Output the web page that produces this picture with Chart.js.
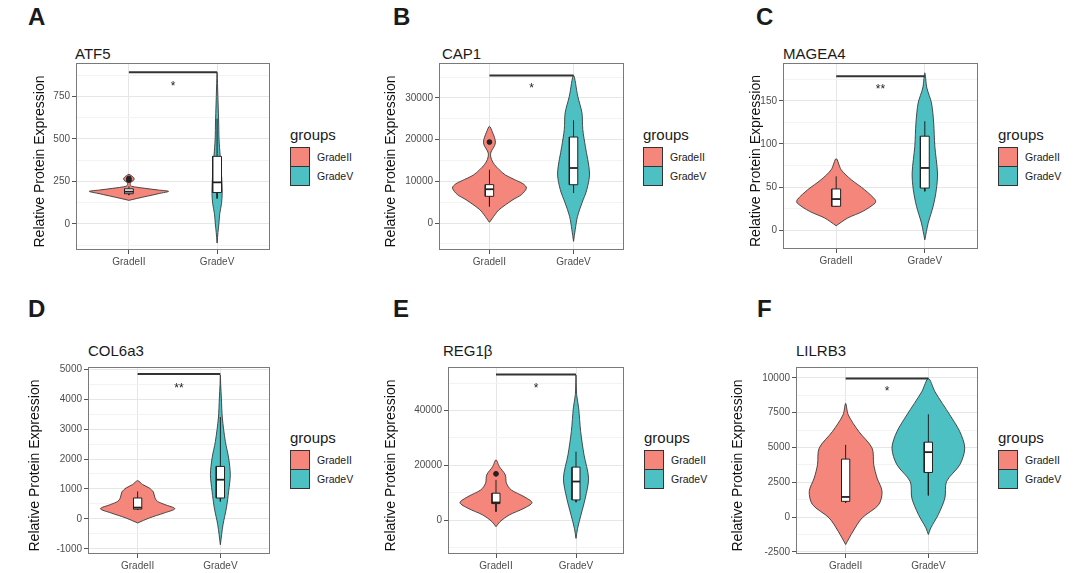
<!DOCTYPE html>
<html>
<head>
<meta charset="utf-8">
<script src="https://cdn.jsdelivr.net/npm/chart.js@4.4.1/dist/chart.umd.min.js"></script>
<style>
  body { margin: 0; width: 1080px; height: 573px; background: #fff; position: relative; overflow: hidden;
         font-family: "Liberation Sans", Arial, sans-serif; color: #1a1a1a; }
  .abs { position: absolute; white-space: nowrap; line-height: 1; }
  .letter { font-size: 24px; font-weight: bold; }
  .title { font-size: 15px; }
  .legtitle { font-size: 15px; }
  .sw { position: absolute; width: 20px; height: 20px; box-sizing: border-box; border: 1px solid #333; }
  .swlab { position: absolute; font-size: 10.5px; line-height: 20px; white-space: nowrap; }
  canvas { position: absolute; }
</style>
</head>
<body>
<div id="root"></div>
<script>
const groups = ["GradeII", "GradeV"];
const groupColors = ["#F4867B", "#4DC0C4"];
const panelLetters = ["A", "B", "C", "D", "E", "F"];
const genes = ["ATF5", "CAP1", "MAGEA4", "COL6a3", "REG1β", "LILRB3"];

const yTicks = [
  [0, 250, 500, 750],
  [0, 10000, 20000, 30000],
  [0, 50, 100, 150],
  [-1000, 0, 1000, 2000, 3000, 4000, 5000],
  [0, 20000, 40000],
  [-2500, 0, 2500, 5000, 7500, 10000]
];
const yLimits = [[-153, 947], [-6470, 38370], [-22, 194], [-1167, 5067], [-12430, 55940], [-2658, 10776]];

// violin outlines: value levels (bottom to top) and half widths in category units
const atf5IIY = [139, 150, 165, 180, 192, 200, 210, 222, 232, 245, 255, 265, 275, 285, 292];
const atf5IIW = [0, 0.09, 0.22, 0.35, 0.45, 0.33, 0.18, 0.03, 0.015, 0.02, 0.05, 0.06, 0.05, 0.025, 0];
const atf5VY = [-112, -50, 0, 60, 120, 180, 250, 320, 400, 500, 600, 700, 800, 892];
const atf5VW = [0, 0.01, 0.02, 0.03, 0.05, 0.058, 0.055, 0.045, 0.035, 0.022, 0.018, 0.012, 0.006, 0];

const cap1IIY = [170, 1000, 1600, 3200, 5600, 6800, 8400, 9400, 10400, 11500, 12800, 14000, 15200, 16500, 17500, 18500, 19400, 20500, 21800, 23200];
const cap1IIW = [0, 0.03, 0.05, 0.115, 0.28, 0.38, 0.44, 0.40, 0.30, 0.19, 0.115, 0.06, 0.025, 0.012, 0.03, 0.06, 0.071, 0.06, 0.035, 0];
const cap1VY = [-4390, -1600, 1600, 4800, 8000, 12000, 18400, 22400, 26400, 30400, 35400];
const cap1VW = [0, 0.02, 0.047, 0.10, 0.158, 0.19, 0.14, 0.11, 0.10, 0.05, 0];

const magea4IIY = [5, 14, 21.7, 31.4, 35.2, 46.9, 58.5, 70.1, 82.9];
const magea4IIW = [0, 0.13, 0.30, 0.44, 0.44, 0.32, 0.17, 0.056, 0];
const magea4VY = [-11.3, 8.1, 27.6, 46.9, 66.3, 97.3, 124.4, 147.7, 165, 182.6];
const magea4VW = [0, 0.038, 0.094, 0.13, 0.143, 0.113, 0.10, 0.075, 0.023, 0];

const col6a3IIY = [-133, 33, 200, 343, 480, 587, 700, 900, 1033, 1150, 1277];
const col6a3IIW = [0, 0.14, 0.32, 0.45, 0.33, 0.24, 0.21, 0.19, 0.14, 0.06, 0];
const col6a3VY = [-857, -190, 367, 920, 1477, 2033, 2587, 3367, 4033, 4480, 4800];
const col6a3VW = [0, 0.032, 0.073, 0.10, 0.12, 0.10, 0.06, 0.024, 0.012, 0.004, 0];

const reg1bIIY = [-2450, -620, 1835, 4280, 6350, 8550, 11009, 13460, 16514, 19560, 22018];
const reg1bIIW = [0, 0.05, 0.165, 0.35, 0.45, 0.35, 0.19, 0.13, 0.116, 0.041, 0];
const reg1bVY = [-6720, -3050, 1835, 7960, 15300, 23850, 32400, 40990, 45870, 53000];
const reg1bVW = [0, 0.02, 0.062, 0.116, 0.157, 0.10, 0.058, 0.033, 0.008, 0];

const lilrb3IIY = [-1976, -1024, -64, 888, 1840, 2800, 3751, 4947, 6135, 7330, 8168];
const lilrb3IIW = [0, 0.09, 0.20, 0.40, 0.44, 0.38, 0.34, 0.32, 0.16, 0.032, 0];
const lilrb3VY = [-1260, -780, 172, 1367, 2556, 3751, 4947, 6135, 7330, 9000, 9958];
const lilrb3VW = [0, 0.03, 0.12, 0.20, 0.22, 0.38, 0.44, 0.38, 0.26, 0.08, 0];

// box stats per group: [lower whisker, q1, median, q3, upper whisker]
const atf5Box = [[170, 178, 190, 207, 222], [150, 185, 245, 398, 620]];
const cap1Box = [[3990, 6400, 8100, 9200, 12780], [7190, 9180, 13190, 20620, 24630]];
const magea4Box = [[27, 27.6, 36, 47.7, 62.4], [45, 48.8, 72.1, 109, 126.4]];
const col6a3Box = [[300, 330, 380, 700, 920], [587, 700, 1310, 1753, 3400]];
const reg1bBox = [[3050, 6000, 6400, 9800, 14680], [6500, 7340, 14060, 19340, 25000]];
const lilrb3Box = [[1010, 1125, 1440, 4160, 5183], [1554, 3200, 4660, 5376, 7380]];

const atf5Out = [[258, 268], []];
const cap1Out = [[19420], []];
const reg1bOut = [[16880], []];

const sigBarY = [892, 35400, 178.7, 4833, 53210, 9958];
const sigLabelY = [829, 33020, 167, 4453, 49280, 9242];
const sigLabels = ["*", "*", "**", "**", "*", "*"];

const violins = [
  [[atf5IIY, atf5IIW], [atf5VY, atf5VW]],
  [[cap1IIY, cap1IIW], [cap1VY, cap1VW]],
  [[magea4IIY, magea4IIW], [magea4VY, magea4VW]],
  [[col6a3IIY, col6a3IIW], [col6a3VY, col6a3VW]],
  [[reg1bIIY, reg1bIIW], [reg1bVY, reg1bVW]],
  [[lilrb3IIY, lilrb3IIW], [lilrb3VY, lilrb3VW]]
];
const boxes = [atf5Box, cap1Box, magea4Box, col6a3Box, reg1bBox, lilrb3Box];
const outliers = [atf5Out, cap1Out, [[], []], [[], []], reg1bOut, [[], []]];

// page layout: plot rectangle [l, t, r, b], y title x, letter, title, legend
const layout = [
  { plot: [76, 63, 271, 250], yTitleX: 40, letter: [28, 5], title: [75, 46], legend: [290, 147] },
  { plot: [439, 63, 625, 250], yTitleX: 391, letter: [393, 5], title: [442, 46], legend: [643, 147] },
  { plot: [783, 63, 978, 249], yTitleX: 756, letter: [756, 5], title: [783, 46], legend: [998, 147] },
  { plot: [88, 367, 270, 554], yTitleX: 35, letter: [28, 297], title: [88, 343], legend: [290, 450] },
  { plot: [448, 367, 625, 554], yTitleX: 391, letter: [393, 297], title: [443, 343], legend: [644, 450] },
  { plot: [796, 367, 978, 554], yTitleX: 738, letter: [757, 297], title: [796, 343], legend: [998, 450] }
];
const AXW = 70, PADT = 10, PADR = 4, AXH = 24, BOXW = 0.05;

function violinPoints(cx, ys, ws) {
  const right = ys.map((v, k) => ({ x: cx + ws[k], y: v }));
  const left = ys.map((v, k) => ({ x: cx - ws[k], y: v })).reverse();
  return right.concat(left.slice(1));
}

const panelDecor = {
  id: "panelDecor",
  afterDraw(chart, args, opts) {
    const { ctx, chartArea: a, scales: { x, y } } = chart;
    ctx.save();
    ctx.strokeStyle = "#7a7a7a";
    ctx.lineWidth = 1;
    ctx.strokeRect(a.left + 0.5, a.top + 0.5, a.right - a.left - 1, a.bottom - a.top - 1);
    ctx.fillStyle = "#222";
    ctx.font = "12px 'Liberation Sans', Arial";
    ctx.textAlign = "center";
    ctx.textBaseline = "alphabetic";
    ctx.fillText(opts.label, x.getPixelForValue(1.5), y.getPixelForValue(opts.labelY) + 7);
    ctx.translate(opts.titleX, (a.top + a.bottom) / 2 + 5);
    ctx.rotate(-Math.PI / 2);
    ctx.font = "14px 'Liberation Sans', Arial";
    ctx.textBaseline = "middle";
    ctx.fillStyle = "#111";
    ctx.fillText("Relative Protein Expression", 0, 0);
    ctx.restore();
  }
};

const root = document.getElementById("root");
let html = "";
layout.forEach((L, i) => {
  html += `<div class="abs letter" style="left:${L.letter[0]}px;top:${L.letter[1]}px">${panelLetters[i]}</div>`;
  html += `<div class="abs title" style="left:${L.title[0]}px;top:${L.title[1]}px">${genes[i]}</div>`;
  const [lx, ly] = L.legend;
  html += `<div class="abs legtitle" style="left:${lx}px;top:${ly - 20}px">groups</div>`;
  groups.forEach((g, k) => {
    html += `<div class="sw" style="left:${lx}px;top:${ly + k * 19}px;background:${groupColors[k]}"></div>`;
    html += `<div class="swlab" style="left:${lx + 27}px;top:${ly + k * 19}px">${g}</div>`;
  });
});
root.innerHTML = html;

layout.forEach((L, i) => {
  const [pl, pt, pr, pb] = L.plot;
  const canvas = document.createElement("canvas");
  const left = pl - AXW, top = pt - PADT;
  canvas.width = pr - pl + AXW + PADR;
  canvas.height = pb - pt + PADT + AXH;
  canvas.style.left = left + "px";
  canvas.style.top = top + "px";
  root.appendChild(canvas);

  const datasets = [];
  groups.forEach((g, k) => {
    const cx = k + 1;
    const [ys, ws] = violins[i][k];
    const [wLo, q1, med, q3, wHi] = boxes[i][k];
    datasets.push({
      data: violinPoints(cx, ys, ws), fill: "shape", backgroundColor: groupColors[k],
      borderColor: "#3a3a3a", borderWidth: 0.9, tension: 0.3, order: 5
    });
    datasets.push({ data: [{ x: cx, y: q3 }, { x: cx, y: wHi }], borderColor: "#222", borderWidth: 1, order: 4 });
    datasets.push({ data: [{ x: cx, y: q1 }, { x: cx, y: wLo }], borderColor: "#222", borderWidth: 1, order: 4 });
    datasets.push({
      data: [{ x: cx - BOXW, y: q1 }, { x: cx + BOXW, y: q1 }, { x: cx + BOXW, y: q3 }, { x: cx - BOXW, y: q3 }, { x: cx - BOXW, y: q1 }],
      fill: "shape", backgroundColor: "#ffffff", borderColor: "#222", borderWidth: 1, tension: 0, order: 3
    });
    datasets.push({ data: [{ x: cx - BOXW, y: med }, { x: cx + BOXW, y: med }], borderColor: "#222", borderWidth: 1.8, order: 2 });
    if (outliers[i][k].length) {
      datasets.push({
        data: outliers[i][k].map(v => ({ x: cx, y: v })), showLine: false,
        pointRadius: 2.4, pointBackgroundColor: "#222", pointBorderColor: "#222", order: 1
      });
    }
  });
  datasets.push({ data: [{ x: 1, y: sigBarY[i] }, { x: 2, y: sigBarY[i] }], borderColor: "#333", borderWidth: 2, order: 0 });

  new Chart(canvas, {
    type: "line",
    data: { datasets },
    options: {
      responsive: false,
      animation: false,
      events: [],
      layout: { padding: { top: PADT, right: PADR, left: 0, bottom: 0 } },
      elements: { point: { radius: 0 }, line: { fill: false } },
      plugins: {
        legend: { display: false },
        tooltip: { enabled: false },
        panelDecor: { label: sigLabels[i], labelY: sigLabelY[i], titleX: L.yTitleX - left }
      },
      scales: {
        x: {
          type: "linear", min: 0.4, max: 2.6,
          afterBuildTicks: s => { s.ticks = [{ value: 1 }, { value: 2 }]; },
          afterFit: s => { s.height = AXH; },
          ticks: { callback: v => groups[v - 1], color: "#4d4d4d", font: { size: 10, family: "'Liberation Sans', Arial" }, padding: 2, autoSkip: false, maxRotation: 0 },
          grid: { color: "#e6e6e6", tickColor: "#555", tickLength: 4 },
          border: { display: false }
        },
        y: {
          type: "linear", min: yLimits[i][0], max: yLimits[i][1],
          afterBuildTicks: s => {
            const major = yTicks[i];
            const half = (major[1] - major[0]) / 2;
            const t = [];
            for (let k = -3; k <= major.length * 2 + 2; k++) {
              const v = major[0] + k * half;
              if (v >= s.min && v <= s.max) t.push({ value: v, minor: k % 2 !== 0 });
            }
            s.ticks = t;
          },
          afterFit: s => { s.width = AXW; },
          ticks: {
            callback: (v, idx, ticks) => (ticks[idx].minor ? "" : String(v)),
            color: "#4d4d4d", font: { size: 10, family: "'Liberation Sans', Arial" }, padding: 2, autoSkip: false
          },
          grid: {
            color: c => (c.tick && c.tick.minor ? "#f3f3f3" : "#e6e6e6"),
            tickColor: c => (c.tick && c.tick.minor ? "rgba(0,0,0,0)" : "#555"),
            tickLength: 4
          },
          border: { display: false }
        }
      }
    },
    plugins: [panelDecor]
  });
});
</script>
</body>
</html>
